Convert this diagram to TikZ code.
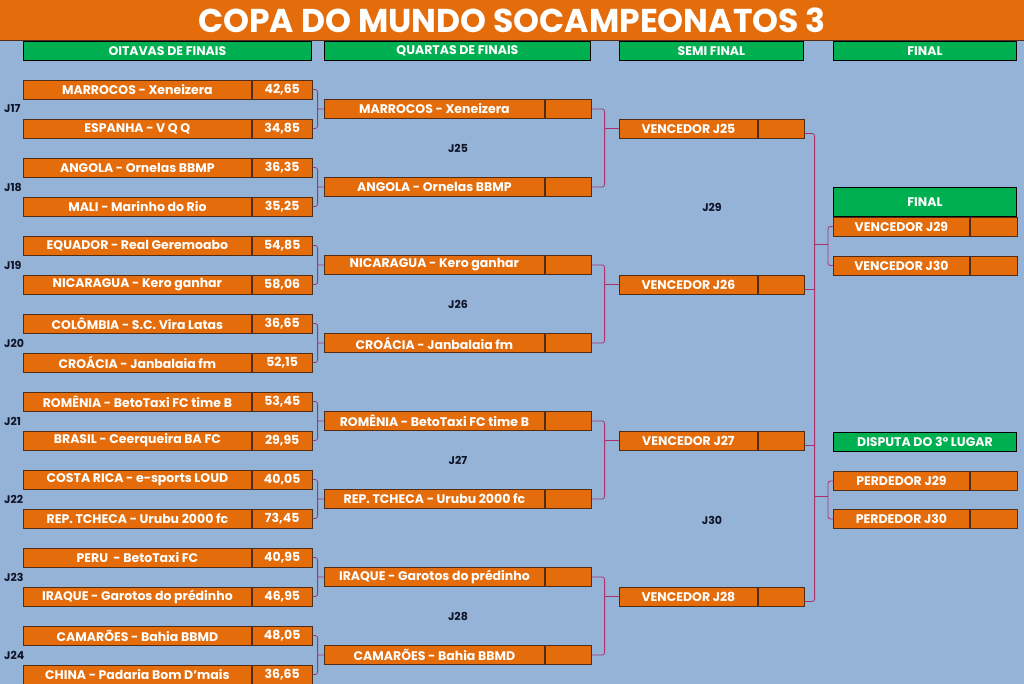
\documentclass[tikz,border=0pt]{standalone}
\usepackage{fontspec}
\setmainfont{Poppins}
\usetikzlibrary{positioning,calc}

\definecolor{fundo}{RGB}{149,179,215}
\definecolor{laranja}{RGB}{228,108,10}
\definecolor{verde}{RGB}{0,176,80}
\definecolor{borda}{RGB}{80,45,20}
\definecolor{linha}{RGB}{170,50,105}
\definecolor{escuro}{RGB}{15,20,40}

\tikzset{
  jogo/.style={draw=borda, line width=0.8pt, fill=laranja, text=white,
    font=\bfseries\fontsize{12.5}{13}\selectfont, minimum height=19pt,
    inner sep=0pt, anchor=west},
  placar/.style={jogo},
  cabeca/.style={draw=black, line width=0.8pt, fill=verde, text=white,
    font=\bfseries\fontsize{12.5}{13}\selectfont, minimum height=19pt,
    inner sep=0pt, anchor=north west},
  rodada/.style={text=escuro, font=\bfseries\fontsize{11}{12}\selectfont, inner sep=0pt},
  chave/.style={draw=linha, line width=0.8pt, rounded corners=2.5pt}
}

\begin{document}
\begin{tikzpicture}[x=1pt,y=-1pt]
% fundo
\fill[fundo] (0,0) rectangle (1024,684);
\useasboundingbox (0,0) rectangle (1024,684);

% titulo
\node[fill=laranja, minimum width=1024pt, minimum height=40pt, inner sep=0pt,
  text=white, font=\bfseries\fontsize{33}{36}\selectfont] (titulo) at (512,20)
  {COPA DO MUNDO SOCAMPEONATOS 3};
\draw[borda] (titulo.south west) -- (titulo.south east);

% cabecalhos das fases
\node[cabeca, minimum width=288pt] (h1) at (23,41) {OITAVAS DE FINAIS};
\node[cabeca, minimum width=266pt] (h2) at (324,41) {QUARTAS DE FINAIS};
\node[cabeca, minimum width=184pt] (h3) at (619,41) {SEMI FINAL};
\node[cabeca, minimum width=183pt] (h4) at (833,41) {FINAL};

% oitavas de finais
\node[jogo, minimum width=228pt] (o1) at (23,89.5) {MARROCOS - Xeneizera};
\node[placar, minimum width=60pt] (p1) at (o1.east) {42,65};
\node[jogo, minimum width=228pt] (o2) at (23,128.5) {ESPANHA - V Q Q};
\node[placar, minimum width=60pt] (p2) at (o2.east) {34,85};
\node[jogo, minimum width=228pt] (o3) at (23,167.5) {ANGOLA - Ornelas BBMP};
\node[placar, minimum width=60pt] (p3) at (o3.east) {36,35};
\node[jogo, minimum width=228pt] (o4) at (23,206.5) {MALI - Marinho do Rio};
\node[placar, minimum width=60pt] (p4) at (o4.east) {35,25};
\node[jogo, minimum width=228pt] (o5) at (23,245.5) {EQUADOR - Real Geremoabo};
\node[placar, minimum width=60pt] (p5) at (o5.east) {54,85};
\node[jogo, minimum width=228pt] (o6) at (23,284.5) {NICARAGUA - Kero ganhar};
\node[placar, minimum width=60pt] (p6) at (o6.east) {58,06};
\node[jogo, minimum width=228pt] (o7) at (23,323.5) {COLÔMBIA - S.C. Vira Latas};
\node[placar, minimum width=60pt] (p7) at (o7.east) {36,65};
\node[jogo, minimum width=228pt] (o8) at (23,362.5) {CROÁCIA - Janbalaia fm};
\node[placar, minimum width=60pt] (p8) at (o8.east) {52,15};
\node[jogo, minimum width=228pt] (o9) at (23,401.5) {ROMÊNIA - BetoTaxi FC time B};
\node[placar, minimum width=60pt] (p9) at (o9.east) {53,45};
\node[jogo, minimum width=228pt] (o10) at (23,440.5) {BRASIL - Ceerqueira BA FC};
\node[placar, minimum width=60pt] (p10) at (o10.east) {29,95};
\node[jogo, minimum width=228pt] (o11) at (23,479.5) {COSTA RICA - e-sports LOUD};
\node[placar, minimum width=60pt] (p11) at (o11.east) {40,05};
\node[jogo, minimum width=228pt] (o12) at (23,518.5) {REP. TCHECA - Urubu 2000 fc};
\node[placar, minimum width=60pt] (p12) at (o12.east) {73,45};
\node[jogo, minimum width=228pt] (o13) at (23,557.5) {PERU \ - BetoTaxi FC};
\node[placar, minimum width=60pt] (p13) at (o13.east) {40,95};
\node[jogo, minimum width=228pt] (o14) at (23,596.5) {IRAQUE - Garotos do prédinho};
\node[placar, minimum width=60pt] (p14) at (o14.east) {46,95};
\node[jogo, minimum width=228pt] (o15) at (23,635.5) {CAMARÕES - Bahia BBMD};
\node[placar, minimum width=60pt] (p15) at (o15.east) {48,05};
\node[jogo, minimum width=228pt] (o16) at (23,674.5) {CHINA - Padaria Bom D'mais};
\node[placar, minimum width=60pt] (p16) at (o16.east) {36,65};

% numeros dos jogos
\node[rodada, anchor=west] (j17) at (4,109) {J17};
\node[rodada, anchor=west] (j18) at (4,187) {J18};
\node[rodada, anchor=west] (j19) at (4,265) {J19};
\node[rodada, anchor=west] (j20) at (4,343) {J20};
\node[rodada, anchor=west] (j21) at (4,421) {J21};
\node[rodada, anchor=west] (j22) at (4,499) {J22};
\node[rodada, anchor=west] (j23) at (4,577) {J23};
\node[rodada, anchor=west] (j24) at (4,655) {J24};

% quartas de finais
\node[jogo, minimum width=220pt] (q1) at (324,109) {MARROCOS - Xeneizera};
\node[placar, minimum width=46pt] (pq1) at (q1.east) {};
\node[jogo, minimum width=220pt] (q2) at (324,187) {ANGOLA - Ornelas BBMP};
\node[placar, minimum width=46pt] (pq2) at (q2.east) {};
\node[jogo, minimum width=220pt] (q3) at (324,265) {NICARAGUA - Kero ganhar};
\node[placar, minimum width=46pt] (pq3) at (q3.east) {};
\node[jogo, minimum width=220pt] (q4) at (324,343) {CROÁCIA - Janbalaia fm};
\node[placar, minimum width=46pt] (pq4) at (q4.east) {};
\node[jogo, minimum width=220pt] (q5) at (324,421) {ROMÊNIA - BetoTaxi FC time B};
\node[placar, minimum width=46pt] (pq5) at (q5.east) {};
\node[jogo, minimum width=220pt] (q6) at (324,499) {REP. TCHECA - Urubu 2000 fc};
\node[placar, minimum width=46pt] (pq6) at (q6.east) {};
\node[jogo, minimum width=220pt] (q7) at (324,577) {IRAQUE - Garotos do prédinho};
\node[placar, minimum width=46pt] (pq7) at (q7.east) {};
\node[jogo, minimum width=220pt] (q8) at (324,655) {CAMARÕES - Bahia BBMD};
\node[placar, minimum width=46pt] (pq8) at (q8.east) {};

\node[rodada] (j25) at (458,148) {J25};
\node[rodada] (j26) at (458,304) {J26};
\node[rodada] (j27) at (458,460) {J27};
\node[rodada] (j28) at (458,616) {J28};

% semi final
\node[jogo, minimum width=138pt] (s1) at (619,128.5) {VENCEDOR J25};
\node[placar, minimum width=46pt] (ps1) at (s1.east) {};
\node[jogo, minimum width=138pt] (s2) at (619,284.5) {VENCEDOR J26};
\node[placar, minimum width=46pt] (ps2) at (s2.east) {};
\node[jogo, minimum width=138pt] (s3) at (619,440.5) {VENCEDOR J27};
\node[placar, minimum width=46pt] (ps3) at (s3.east) {};
\node[jogo, minimum width=138pt] (s4) at (619,596.5) {VENCEDOR J28};
\node[placar, minimum width=46pt] (ps4) at (s4.east) {};

\node[rodada] (j29) at (712,207) {J29};
\node[rodada] (j30) at (712,520) {J30};

% final e disputa do 3o lugar
\node[cabeca, minimum width=183pt, minimum height=29pt] (hf) at (833,187) {FINAL};
\node[jogo, minimum width=136pt] (f1) at (833,226.5) {VENCEDOR J29};
\node[placar, minimum width=47pt] (pf1) at (f1.east) {};
\node[jogo, minimum width=136pt] (f2) at (833,265.5) {VENCEDOR J30};
\node[placar, minimum width=47pt] (pf2) at (f2.east) {};

\node[cabeca, minimum width=183pt] (ht) at (833,432) {DISPUTA DO 3º LUGAR};
\node[jogo, minimum width=136pt] (t1) at (833,481) {PERDEDOR J29};
\node[placar, minimum width=47pt] (pt1) at (t1.east) {};
\node[jogo, minimum width=136pt] (t2) at (833,519) {PERDEDOR J30};
\node[placar, minimum width=47pt] (pt2) at (t2.east) {};

% chaves oitavas -> quartas
\foreach \a/\b/\q in {1/2/1,3/4/2,5/6/3,7/8/4,9/10/5,11/12/6,13/14/7,15/16/8}
  \draw[chave] (p\a.east) -- ++(5,0) coordinate (k) |- (p\b.east)
    (k |- q\q.west) -- (q\q.west);

% chaves quartas -> semi
\foreach \a/\b/\s in {1/2/1,3/4/2,5/6/3,7/8/4}
  \draw[chave] (pq\a.east) -- ++(13,0) coordinate (k) |- (pq\b.east)
    (k |- s\s.west) -- (s\s.west);

% chave semi -> final
\coordinate (e1) at ($(ps1.east)+(0,5)$);
\coordinate (e2) at ($(ps2.east)+(0,5)$);
\coordinate (e3) at ($(ps3.east)+(0,5)$);
\coordinate (e4) at ($(ps4.east)+(0,5)$);
\draw[chave] (e1) -- ++(10,0) coordinate (v) |- (e4);
\draw[chave] (e2) -- (e2 -| v);
\draw[chave] (e3) -- (e3 -| v);

\draw[chave] (f1.west) -- ++(-5,0) coordinate (w) -- (w |- f2.west)
  coordinate[pos=.45] (m1) -- (f2.west);
\draw[chave] (m1) -- (m1 -| v);
\draw[chave] (t1.west) -- ++(-5,0) coordinate (w) -- (w |- t2.west)
  coordinate[pos=.4] (m2) -- (t2.west);
\draw[chave] (m2) -- (m2 -| v);

\end{tikzpicture}
\end{document}
